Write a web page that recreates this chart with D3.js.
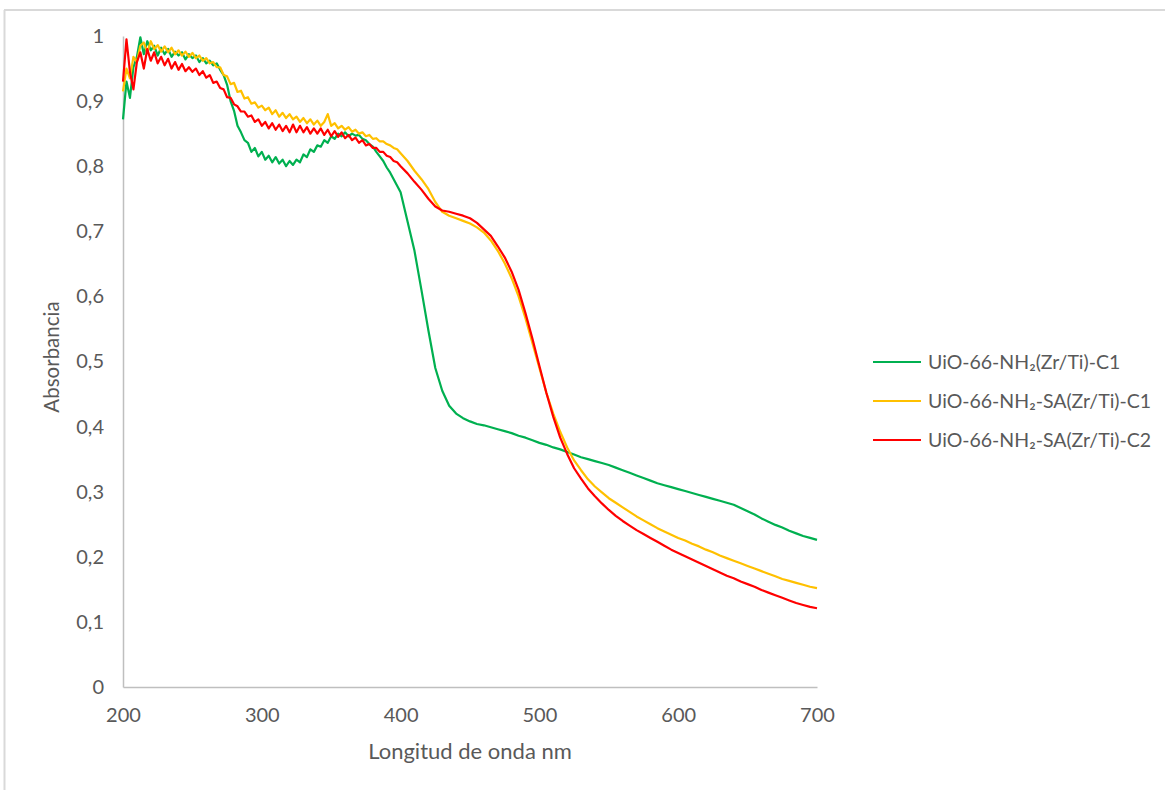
<!DOCTYPE html>
<html><head><meta charset="utf-8">
<script src="https://cdn.jsdelivr.net/npm/d3@7"></script>
<style>body{margin:0;background:#fff;} svg{display:block;}</style>
</head><body>
<script>
const wavelengths = [];
// wavelength grid: 2.5 nm steps 200-400, then 5 nm steps 405-700
const gridFine = [200,202.5,205,207.5,210,212.5,215,217.5,220,222.5,225,227.5,230,232.5,235,237.5,240,242.5,245,247.5,250,252.5,255,257.5,260,262.5,265,267.5,270,272.5,275,277.5,280,282.5,285,287.5,290,292.5,295,297.5,300,302.5,305,307.5,310,312.5,315,317.5,320,322.5,325,327.5,330,332.5,335,337.5,340,342.5,345,347.5,350,352.5,355,357.5,360,362.5,365,367.5,370,372.5,375,377.5,380,382.5,385,387.5,390,392.5,395,397.5,400];
const gridCoarse = [405,410,415,420,425,430,435,440,445,450,455,460,465,470,475,480,485,490,495,500,505,510,515,520,525,530,535,540,545,550,555,560,565,570,575,580,585,590,595,600,605,610,615,620,625,630,635,640,645,650,655,660,665,670,675,680,685,690,695,700];
gridFine.concat(gridCoarse).forEach(v => wavelengths.push(v));

const greenC1 = [0.872,0.930,0.905,0.952,0.968,0.998,0.972,0.992,0.978,0.985,0.970,0.982,0.972,0.980,0.968,0.976,0.970,0.975,0.964,0.972,0.966,0.970,0.960,0.966,0.958,0.962,0.955,0.958,0.948,0.940,0.925,0.900,0.885,0.862,0.852,0.840,0.836,0.822,0.828,0.815,0.822,0.810,0.816,0.806,0.814,0.804,0.810,0.800,0.808,0.802,0.810,0.806,0.818,0.814,0.826,0.822,0.832,0.830,0.840,0.836,0.846,0.842,0.850,0.846,0.852,0.846,0.850,0.847,0.848,0.842,0.840,0.834,0.830,0.822,0.815,0.808,0.798,0.790,0.780,0.770,0.760,
0.715,0.670,0.610,0.548,0.490,0.455,0.432,0.420,0.413,0.408,0.404,0.402,0.399,0.396,0.393,0.390,0.386,0.383,0.379,0.375,0.372,0.368,0.365,0.361,0.357,0.353,0.350,0.347,0.344,0.341,0.337,0.333,0.329,0.325,0.321,0.317,0.313,0.310,0.307,0.304,0.301,0.298,0.295,0.292,0.289,0.286,0.283,0.280,0.275,0.270,0.265,0.259,0.254,0.249,0.245,0.240,0.236,0.232,0.229,0.226];

const yellowSAC1 = [0.915,0.950,0.935,0.968,0.960,0.985,0.990,0.975,0.992,0.980,0.986,0.976,0.984,0.975,0.982,0.972,0.978,0.970,0.976,0.968,0.974,0.966,0.970,0.962,0.966,0.958,0.960,0.952,0.952,0.940,0.938,0.926,0.928,0.914,0.916,0.904,0.906,0.896,0.898,0.890,0.893,0.886,0.890,0.880,0.886,0.876,0.882,0.874,0.880,0.872,0.876,0.868,0.874,0.866,0.872,0.864,0.870,0.862,0.868,0.880,0.862,0.866,0.858,0.862,0.856,0.860,0.853,0.856,0.850,0.852,0.846,0.848,0.842,0.843,0.838,0.838,0.834,0.832,0.828,0.826,0.820,
0.808,0.793,0.780,0.765,0.745,0.730,0.724,0.720,0.716,0.712,0.706,0.698,0.686,0.670,0.651,0.628,0.600,0.566,0.528,0.490,0.452,0.420,0.392,0.368,0.348,0.333,0.319,0.308,0.299,0.290,0.283,0.276,0.269,0.262,0.256,0.250,0.244,0.239,0.234,0.229,0.225,0.220,0.216,0.211,0.207,0.202,0.198,0.194,0.190,0.186,0.182,0.178,0.174,0.170,0.166,0.163,0.160,0.157,0.154,0.152];

const redSAC2 = [0.930,0.995,0.945,0.918,0.960,0.975,0.950,0.980,0.962,0.975,0.958,0.968,0.955,0.965,0.950,0.960,0.948,0.957,0.946,0.952,0.945,0.950,0.940,0.946,0.936,0.940,0.928,0.930,0.920,0.918,0.906,0.905,0.895,0.892,0.884,0.884,0.876,0.878,0.868,0.872,0.862,0.868,0.858,0.866,0.856,0.864,0.854,0.862,0.852,0.864,0.852,0.862,0.852,0.860,0.850,0.858,0.850,0.858,0.848,0.856,0.846,0.854,0.845,0.852,0.843,0.848,0.840,0.844,0.836,0.840,0.832,0.834,0.828,0.828,0.822,0.822,0.816,0.814,0.808,0.806,0.800,
0.789,0.776,0.764,0.750,0.738,0.732,0.730,0.727,0.724,0.720,0.713,0.703,0.693,0.677,0.660,0.638,0.610,0.574,0.535,0.493,0.452,0.415,0.383,0.358,0.336,0.320,0.305,0.293,0.282,0.272,0.263,0.255,0.248,0.241,0.235,0.229,0.223,0.217,0.211,0.206,0.201,0.196,0.191,0.186,0.181,0.176,0.171,0.167,0.162,0.158,0.154,0.149,0.145,0.141,0.137,0.133,0.129,0.126,0.123,0.121];

const seriesNames = ["UiO-66-NH₂(Zr/Ti)-C1","UiO-66-NH₂-SA(Zr/Ti)-C1","UiO-66-NH₂-SA(Zr/Ti)-C2"];
const seriesColors = ["#00B050","#FFC000","#FF0000"];
const xTicks = [200,300,400,500,600,700];
const yTicks = [0,0.1,0.2,0.3,0.4,0.5,0.6,0.7,0.8,0.9,1];
const xTitle = "Longitud de onda nm";
const yTitle = "Absorbancia";

const W = 1165, H = 790;
const svg = d3.select("body").append("svg").attr("width", W).attr("height", H);
const font = "Lato, 'Open Sans', sans-serif";
const textColor = "#595959";

// outer frame (partial, as in the cropped screenshot)
svg.append("line").attr("x1",4).attr("x2",W).attr("y1",10).attr("y2",10).attr("stroke","#D9D9D9").attr("stroke-width",2);
svg.append("line").attr("x1",4.5).attr("x2",4.5).attr("y1",10).attr("y2",H).attr("stroke","#D9D9D9").attr("stroke-width",2);

const x = d3.scaleLinear().domain([200,700]).range([123,817]);
const y = d3.scaleLinear().domain([0,1]).range([687,36]);

// axes
const xAxis = svg.append("g").attr("transform","translate(0,687)")
  .call(d3.axisBottom(x).tickValues(xTicks).tickSize(0).tickPadding(21).tickFormat(d3.format("d")));
const yAxis = svg.append("g").attr("transform","translate(123,0)")
  .call(d3.axisLeft(y).tickValues(yTicks).tickSize(0).tickPadding(19).tickFormat(d => d === 0 ? "0" : d === 1 ? "1" : String(d3.format(".1f")(d)).replace(".", ",")));
[xAxis, yAxis].forEach(g => {
  g.select(".domain").attr("stroke","#BFBFBF").attr("stroke-width",1.5);
  g.selectAll("text").attr("fill",textColor).style("font-family",font).style("font-size","20px");
});

// titles
svg.append("text").attr("x",470).attr("y",759).attr("text-anchor","middle")
  .attr("fill",textColor).style("font-family",font).style("font-size","22px").text(xTitle);
svg.append("text").attr("transform","translate(59,357) rotate(-90)").attr("text-anchor","middle")
  .attr("fill",textColor).style("font-family",font).style("font-size","20.5px").text(yTitle);

// lines
const allSeries = [greenC1, yellowSAC1, redSAC2];
const line = d3.line().x((d,i) => x(wavelengths[i])).y(d => y(d));
allSeries.forEach((s, k) => {
  svg.append("path").datum(s).attr("d", line).attr("fill","none")
    .attr("stroke", seriesColors[k]).attr("stroke-width",2.2).attr("stroke-linejoin","round");
});

// legend
const legendY = [362, 401, 440];
seriesNames.forEach((n, k) => {
  svg.append("line").attr("x1",873).attr("x2",921).attr("y1",legendY[k]).attr("y2",legendY[k])
    .attr("stroke",seriesColors[k]).attr("stroke-width",2.2);
  svg.append("text").attr("x",928).attr("y",legendY[k]).attr("dy","0.35em")
    .attr("fill",textColor).style("font-family",font).style("font-size","19.5px").text(n);
});
</script>
</body></html>
